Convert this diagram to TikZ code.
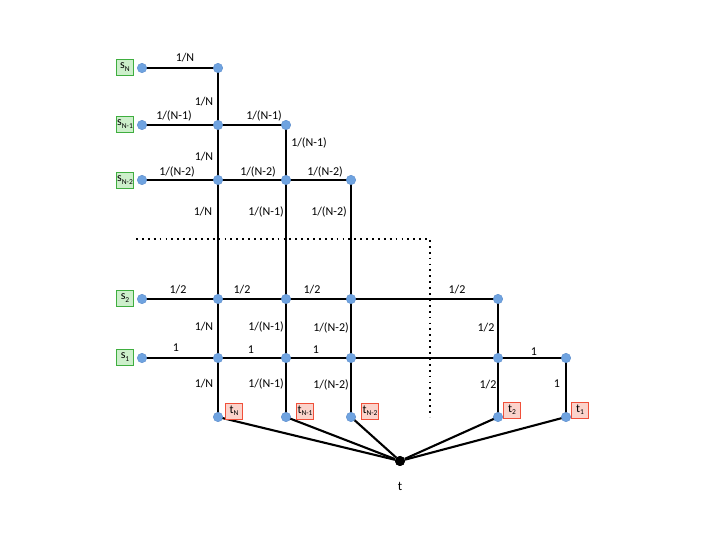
\documentclass[tikz,border=0pt]{standalone}
\usepackage{fontspec}
\setmainfont{Carlito}
\definecolor{dotblue}{HTML}{6FA3E0}
\definecolor{dotedge}{HTML}{5B8CCB}
\definecolor{sfill}{HTML}{CDEFCB}
\definecolor{sedge}{HTML}{3FAE3F}
\definecolor{tfill}{HTML}{FBD3CB}
\definecolor{tedge}{HTML}{F0503A}
\newcommand{\sub}[1]{\raisebox{-2.2pt}{\fontsize{7.5}{8}\selectfont #1}}
\tikzset{
  vtx/.style={circle,fill=dotblue,draw=dotedge,line width=0.4pt,inner sep=0pt,minimum size=9.5pt},
  sink/.style={circle,fill=black,inner sep=0pt,minimum size=10pt},
  edge/.style={line width=2.1pt,black},
  lbl/.style={font=\fontsize{12}{14}\selectfont,inner sep=0pt},
  sbox/.style={draw=sedge,fill=sfill,line width=0.8pt,minimum width=16.5pt,minimum height=16pt,inner sep=0pt,font=\fontsize{12}{13}\selectfont},
  tbox/.style={draw=tedge,fill=tfill,line width=0.8pt,minimum width=16.5pt,minimum height=16pt,inner sep=0pt,font=\fontsize{12}{13}\selectfont},
  dotline/.style={line width=1.8pt,dash pattern=on 1.8pt off 4.1pt}
}
\begin{document}
\begin{tikzpicture}[x=1pt,y=-1pt]
\useasboundingbox (0,0) rectangle (705,545);
% dotted separator
\coordinate (d1) at (136,239);
\coordinate (d2) at (430,239);
\coordinate (d3) at (430,417);
\draw[dotline] (d1) -- (d2) -- (d3);
% vertices
\foreach \n/\x/\y in {aN/142/68, bN/218/68,
  aM/142/125, cNM/218/125, dM/286/125,
  aL/142/180, cNL/218/180, cML/286/180, dL/351/180,
  a2/142/299, c2N/218/299, c2M/286/299, c2L/351/299, d2/498/299,
  a1/142/358, c1N/218/358, c1M/286/358, c1L/351/358, c12/498/358, d1/566/358,
  tN/218/417, tM/286/417, tL/351/417, t2/498/417, t1/566/417}
  \coordinate (\n) at (\x,\y);
\node[sink] (t) at (400,461) {};
% edges
\draw[edge] (aN) -- (bN) -- (cNM) -- (cNL) -- (c2N) -- (c1N) -- (tN);
\draw[edge] (aM) -- (cNM) -- (dM) -- (cML) -- (c2M) -- (c1M) -- (tM);
\draw[edge] (aL) -- (cNL) -- (cML) -- (dL) -- (c2L) -- (c1L) -- (tL);
\draw[edge] (a2) -- (c2N) -- (c2M) -- (c2L) -- (d2) -- (c12) -- (t2);
\draw[edge] (a1) -- (c1N) -- (c1M) -- (c1L) -- (c12) -- (d1) -- (t1);
\foreach \n in {tN,tM,tL,t2,t1} \draw[edge] (\n) -- (t);
% dots
\foreach \n in {aN,bN,aM,cNM,dM,aL,cNL,cML,dL,a2,c2N,c2M,c2L,d2,a1,c1N,c1M,c1L,c12,d1,tN,tM,tL,t2,t1}
  \node[vtx] (v\n) at (\n) {};
\node[sink] (tt) at (t) {};
\node[lbl,font=\fontsize{13}{15}\selectfont] (tlabel) at (400,486) {t};
% source boxes
\node[sbox] (sN) at (125,67) {s\sub{N}};
\node[sbox] (sM) at (125,124) {s\sub{N-1}};
\node[sbox] (sL) at (125,180) {s\sub{N-2}};
\node[sbox] (s2) at (125,298) {s\sub{2}};
\node[sbox] (s1) at (125,357) {s\sub{1}};
% sink boxes
\node[tbox] (btN) at (234,411) {t\sub{N}};
\node[tbox] (btM) at (305,411) {t\sub{N-1}};
\node[tbox] (btL) at (370,411) {t\sub{N-2}};
\node[tbox] (bt2) at (512,410) {t\sub{2}};
\node[tbox] (bt1) at (580,410) {t\sub{1}};
% edge labels
\node[lbl] (l01) at (185,58) {1/N};
\node[lbl] (l02) at (204,102) {1/N};
\node[lbl] (l03) at (174,116) {1/(N-1)};
\node[lbl] (l04) at (264,116) {1/(N-1)};
\node[lbl] (l05) at (309,143) {1/(N-1)};
\node[lbl] (l06) at (204,157) {1/N};
\node[lbl] (l07) at (177,172) {1/(N-2)};
\node[lbl] (l08) at (258,172) {1/(N-2)};
\node[lbl] (l09) at (325,172) {1/(N-2)};
\node[lbl] (l10) at (203,212) {1/N};
\node[lbl] (l11) at (266,212) {1/(N-1)};
\node[lbl] (l12) at (329,212) {1/(N-2)};
\node[lbl] (l13) at (178,290) {1/2};
\node[lbl] (l14) at (242,290) {1/2};
\node[lbl] (l15) at (312,290) {1/2};
\node[lbl] (l16) at (457,290) {1/2};
\node[lbl] (l17) at (204,327) {1/N};
\node[lbl] (l18) at (266,327) {1/(N-1)};
\node[lbl] (l19) at (331,328) {1/(N-2)};
\node[lbl] (l20) at (486,328) {1/2};
\node[lbl] (l21) at (176,348) {1};
\node[lbl] (l22) at (251,350) {1};
\node[lbl] (l23) at (316,350) {1};
\node[lbl] (l24) at (534,352) {1};
\node[lbl] (l25) at (204,384) {1/N};
\node[lbl] (l26) at (266,384) {1/(N-1)};
\node[lbl] (l27) at (331,385) {1/(N-2)};
\node[lbl] (l28) at (488,385) {1/2};
\node[lbl] (l29) at (557,384) {1};
\end{tikzpicture}
\end{document}
